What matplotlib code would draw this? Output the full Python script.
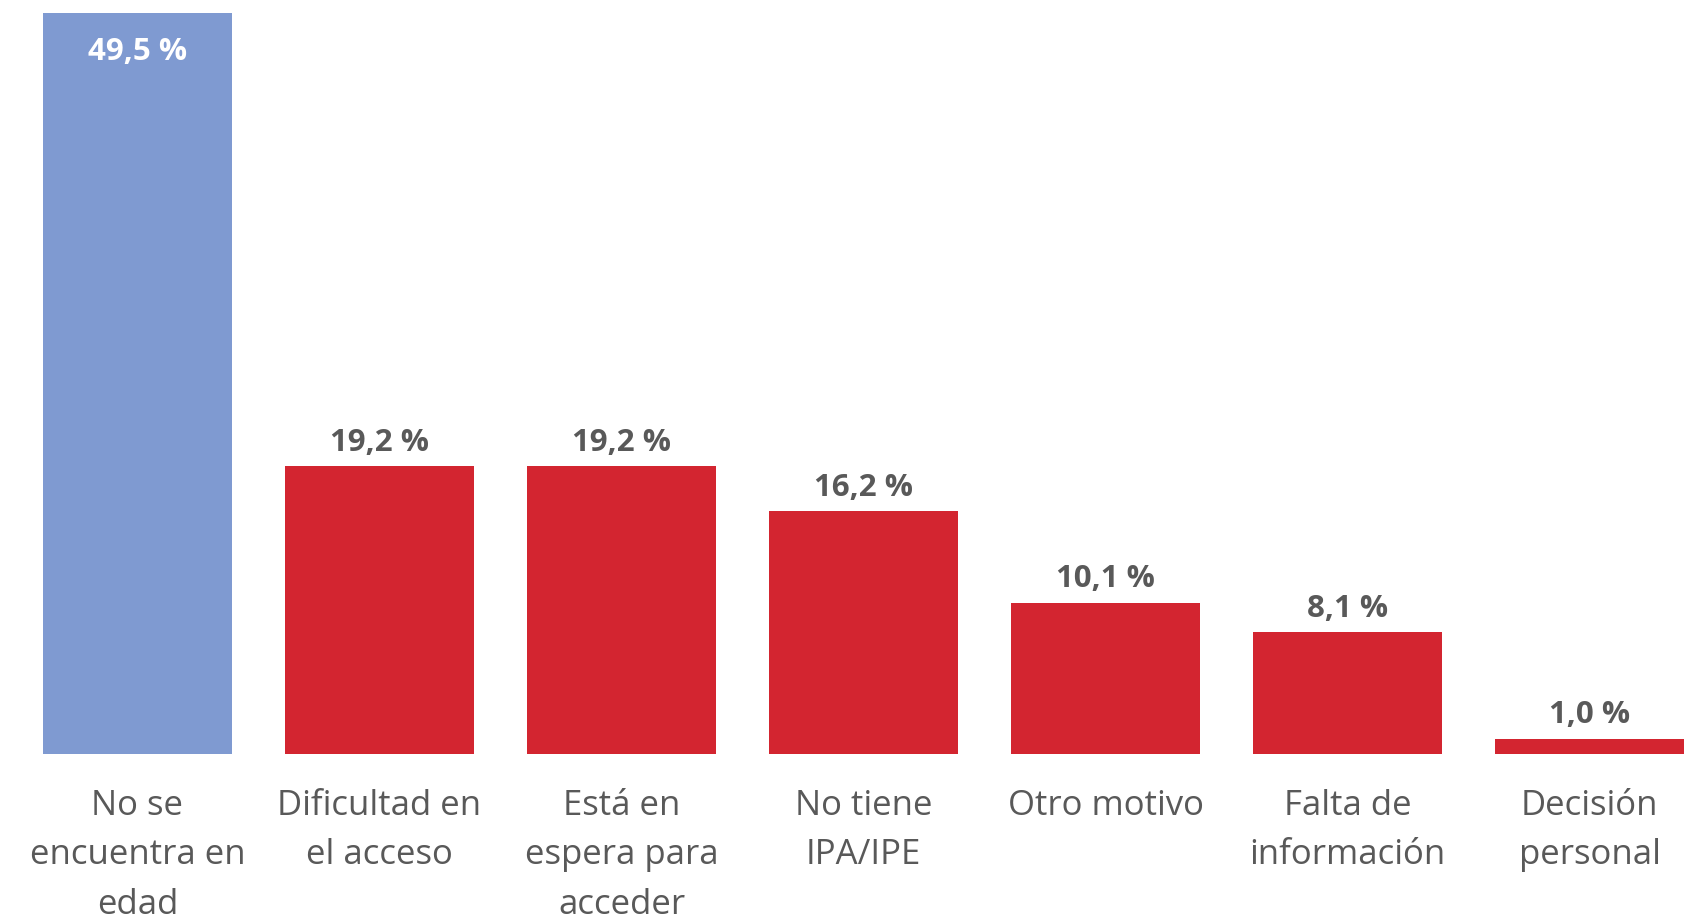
import matplotlib.pyplot as plt

# motivos y porcentajes
motivos = ['No se\nencuentra en\nedad', 'Dificultad en\nel acceso', 'Está en\nespera para\nacceder',
           'No tiene\nIPA/IPE', 'Otro motivo', 'Falta de\ninformación', 'Decisión\npersonal']
porcentajes = [49.5, 19.2, 19.2, 16.2, 10.1, 8.1, 1.0]
colores = ['#7F9AD1', '#D32530', '#D32530', '#D32530', '#D32530', '#D32530', '#D32530']

plt.rcParams['font.family'] = ['Open Sans', 'DejaVu Sans']

fig = plt.figure(figsize=(16.97, 9.19), dpi=100)
ax = fig.add_axes([0, 1 - 753.7 / 919, 1, 753.7 / 919])

x = list(range(len(motivos)))
ax.bar(x, porcentajes, width=0.78, color=colores)

ax.set_xlim(-0.568, 6.444)
ax.set_ylim(0, 50.37)

for i, v in enumerate(porcentajes):
    txt = f'{v:.1f} %'.replace('.', ',')
    if i == 0:
        # etiqueta dentro de la barra más alta
        ax.annotate(txt, (i, v), xytext=(0, -34), textcoords='offset points',
                    ha='center', va='baseline', fontsize=22.5, fontweight='bold', color='white')
    else:
        ax.annotate(txt, (i, v), xytext=(0, 11), textcoords='offset points',
                    ha='center', va='baseline', fontsize=22.5, fontweight='bold', color='#595959')

ax.set_xticks(x)
ax.set_xticklabels(motivos, fontsize=25, color='#595959', linespacing=1.59)
ax.tick_params(axis='x', length=0, pad=25.5)
ax.set_yticks([])
for s in ax.spines.values():
    s.set_visible(False)

fig.savefig('out.png', dpi=100)
